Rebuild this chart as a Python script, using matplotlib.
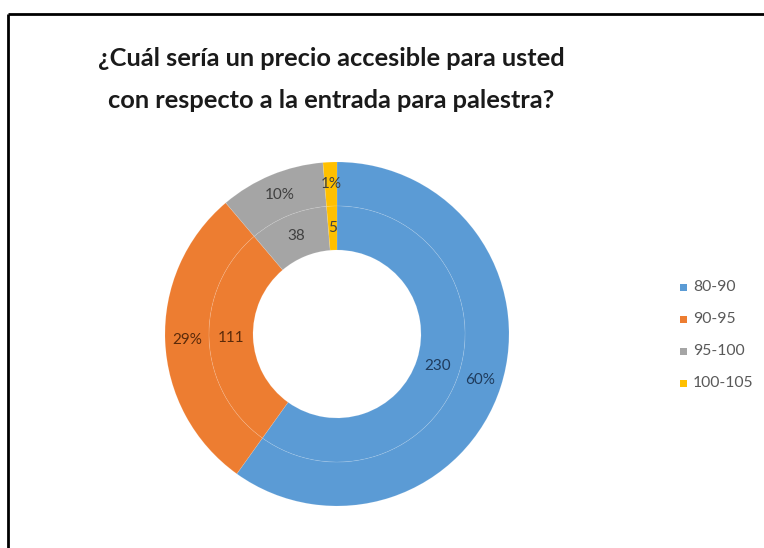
import matplotlib
matplotlib.use("Agg")
import matplotlib.pyplot as plt

categories = ["80-90", "90-95", "95-100", "100-105"]
values = [230, 111, 38, 5]
percent_labels = ["60%", "29%", "10%", "1%"]
title_lines = ["¿Cuál sería un precio accesible para usted",
               "con respecto a la entrada para palestra?"]

colors = ["#5B9BD5", "#ED7D31", "#A5A5A5", "#FFC000"]
label_colors = ["#1F3B5C", "#5A2A0A", "#404040", "#404040"]

W, H = 764, 548
fig = plt.figure(figsize=(W / 100, H / 100), dpi=100)
ax = fig.add_axes([0, 0, 1, 1])
ax.set_xlim(0, W)
ax.set_ylim(0, H)
ax.set_aspect("equal")
ax.axis("off")

cx, cy = 337, H - 334
r_out, r_mid, r_in = 172, 128, 84

# outer ring (percentages)
wedges_o, texts_o = ax.pie(values, colors=colors, radius=r_out, center=(cx, cy),
                           startangle=90, counterclock=False,
                           labels=percent_labels, labeldistance=(150 / r_out),
                           wedgeprops=dict(width=r_out - r_mid, edgecolor=(1, 1, 1, 0.12), linewidth=0.6),
                           textprops=dict(fontsize=11, family="Lato"))
# inner ring (counts)
wedges_i, texts_i = ax.pie(values, colors=colors, radius=r_mid, center=(cx, cy),
                           startangle=90, counterclock=False,
                           labels=[str(v) for v in values], labeldistance=(106 / r_mid),
                           wedgeprops=dict(width=r_mid - r_in, edgecolor=(1, 1, 1, 0.12), linewidth=0.6),
                           textprops=dict(fontsize=11, family="Lato"))
for t, c in zip(texts_o, label_colors):
    t.set_color(c); t.set_ha("center"); t.set_va("center")
for t, c in zip(texts_i, label_colors):
    t.set_color(c); t.set_ha("center"); t.set_va("center")

ax.set_xlim(0, W)
ax.set_ylim(0, H)

# title
ax.text(331, H - 58, title_lines[0], ha="center", va="center", fontsize=18.3,
        fontweight="bold", family="Lato", color="#1a1a1a")
ax.text(331, H - 101, title_lines[1], ha="center", va="center", fontsize=18.3,
        fontweight="bold", family="Lato", color="#1a1a1a")

# legend
leg_y = [287, 319, 351, 383]
for cat, col, y in zip(categories, colors, leg_y):
    ax.add_patch(plt.Rectangle((680, H - y - 3.5), 7, 7, color=col, lw=0))
    ax.text(693, H - y, cat, ha="left", va="center", fontsize=11.3,
            family="Lato", color="#595959")

# frame lines (top and left)
ax.plot([8, W], [H - 14, H - 14], color="black", lw=2, solid_capstyle="butt")
ax.plot([8, 8], [H - 14, 0], color="black", lw=2, solid_capstyle="butt")

fig.savefig("out.png", dpi=100)
